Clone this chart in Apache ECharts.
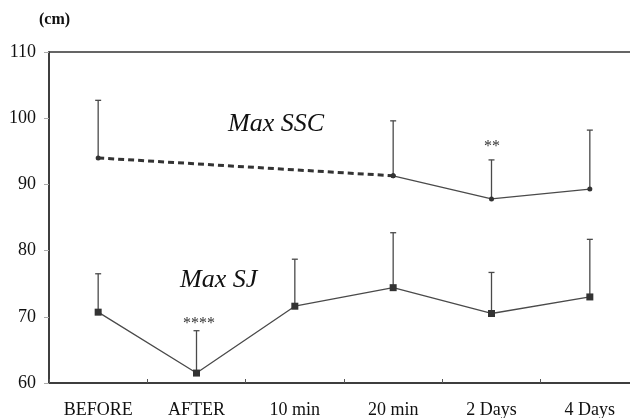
<!DOCTYPE html>
<html><head><meta charset="utf-8">
<script src="https://cdn.jsdelivr.net/npm/echarts@6/dist/echarts.min.js"></script>
<style>html,body{margin:0;padding:0;background:#fff}#c{width:630px;height:418px}</style>
</head><body><div id="c"></div>
<script>
var categories = ['BEFORE', 'AFTER', '10 min', '20 min', '2 Days', '4 Days'];
var yTicks = [60, 70, 80, 90, 100, 110];
// Max SSC (AFTER and 10 min not measured)
var ssc = [94.0, null, null, 91.3, 87.8, 89.3];
var sscTop = [102.7, null, null, 99.6, 93.7, 98.2];
// Max SJ
var sj = [70.7, 61.5, 71.6, 74.4, 70.5, 73.0];
var sjTop = [76.5, 67.9, 78.7, 82.7, 76.7, 81.7];

var serif = '"Liberation Serif", "DejaVu Serif", serif';
var col = '#4a4a4a';

function errData(v, t) {
  var out = [];
  for (var i = 0; i < v.length; i++) if (v[i] != null) out.push([i, v[i], t[i]]);
  return out;
}
function errSeries(v, t) {
  return {
    type: 'custom', silent: true, z: 1,
    data: errData(v, t),
    renderItem: function (params, api) {
      var p0 = api.coord([api.value(0), api.value(1)]);
      var p1 = api.coord([api.value(0), api.value(2)]);
      return { type: 'group', children: [
        { type: 'line', shape: { x1: p0[0], y1: p0[1], x2: p1[0], y2: p1[1] }, style: { stroke: col, lineWidth: 1.3 } },
        { type: 'line', shape: { x1: p1[0] - 3, y1: p1[1], x2: p1[0] + 3, y2: p1[1] }, style: { stroke: col, lineWidth: 1.3 } }
      ]};
    }
  };
}
var sscDash = ssc.map(function (v, i) { return i === 0 || i === 3 ? v : null; });
var sscSolid = ssc.map(function (v, i) { return i >= 3 ? v : null; });

var chart = echarts.init(document.getElementById('c'));
chart.setOption({
  animation: false,
  grid: { left: 49, width: 590, top: 52, height: 331, outerBoundsMode: 'none', containLabel: false,
    show: true, borderColor: '#333', borderWidth: 1.5, backgroundColor: 'transparent' },
  xAxis: {
    type: 'category', data: categories, boundaryGap: true,
    axisLine: { lineStyle: { color: '#333', width: 1.5 } },
    axisTick: { show: true, inside: true, length: 4, lineStyle: { color: '#555' } },
    axisLabel: { color: '#111', fontFamily: serif, fontSize: 18, margin: 18 }
  },
  yAxis: {
    type: 'value', min: 60, max: 110, interval: 10,
    axisLine: { show: true, lineStyle: { color: '#333', width: 1.5 } },
    axisTick: { show: true, length: 5, lineStyle: { color: '#aaa' } },
    splitLine: { show: false },
    axisLabel: { color: '#111', fontFamily: serif, fontSize: 18, margin: 13,
      formatter: function (v) { return yTicks.indexOf(v) >= 0 ? String(v) : ''; } }
  },
  series: [
    errSeries(ssc, sscTop),
    errSeries(sj, sjTop),
    { type: 'line', data: sscDash, connectNulls: true, symbol: 'circle', symbolSize: 5,
      itemStyle: { color: '#333' }, lineStyle: { color: '#333', width: 3, type: [6, 4] }, z: 3 },
    { type: 'line', data: sscSolid, symbol: 'circle', symbolSize: 5,
      itemStyle: { color: '#333' }, lineStyle: { color: col, width: 1.3 }, z: 3 },
    { type: 'line', data: sj, symbol: 'rect', symbolSize: 7,
      itemStyle: { color: '#333' }, lineStyle: { color: col, width: 1.3 }, z: 3 }
  ],
  graphic: [
    { type: 'text', left: 39, top: 12, style: { text: '(cm)', font: 'bold 16px ' + serif, fill: '#111' } },
    { type: 'text', left: 228, top: 111, style: { text: 'Max SSC', font: 'italic 26px ' + serif, fill: '#111' } },
    { type: 'text', left: 180, top: 267, style: { text: 'Max SJ', font: 'italic 26px ' + serif, fill: '#111' } },
    { type: 'text', left: 183, top: 316, style: { text: '****', font: '16px ' + serif, fill: '#333' } },
    { type: 'text', left: 484, top: 139, style: { text: '**', font: '16px ' + serif, fill: '#333' } }
  ]
});
</script></body></html>
